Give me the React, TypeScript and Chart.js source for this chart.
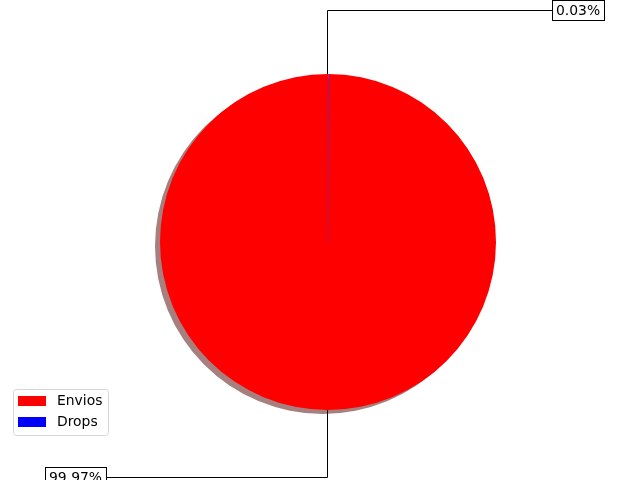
import React, { useEffect, useRef } from "react";
import { Chart, registerables } from "chart.js";

Chart.register(...registerables);

const labels = ["Envios", "Drops"];
const values = [99.97, 0.03];
const colors = ["#ff0000", "#0000ff"];

const FONT = '13.9px "DejaVu Sans", sans-serif';

export default function App() {
  const ref = useRef<HTMLCanvasElement>(null);

  useEffect(() => {
    if (!ref.current) return;
    const total = values.reduce((a, b) => a + b, 0);
    const dropsDeg = (values[1] / total) * 360;

    const plugin = {
      id: "mplExtras",
      beforeDatasetsDraw(chart: any) {
        const ctx = chart.ctx;
        const meta = chart.getDatasetMeta(0);
        ctx.save();
        meta.data.forEach((arc: any, i: number) => {
          ctx.beginPath();
          ctx.moveTo(arc.x - 5, arc.y + 4);
          ctx.arc(arc.x - 5, arc.y + 4, arc.outerRadius, arc.startAngle, arc.endAngle);
          ctx.closePath();
          ctx.fillStyle = i === 0 ? "rgba(77,0,0,0.5)" : "rgba(0,0,77,0.5)";
          ctx.fill();
        });
        ctx.restore();
      },
      afterDatasetsDraw(chart: any) {
        // thin wedge outline so the tiny slice stays visible
        const ctx = chart.ctx;
        const arc = chart.getDatasetMeta(0).data[1];
        ctx.save();
        ctx.strokeStyle = "rgba(90,40,200,0.8)";
        ctx.lineWidth = 0.6;
        ctx.beginPath();
        const mid = (arc.startAngle + arc.endAngle) / 2;
        ctx.moveTo(arc.x, arc.y);
        ctx.lineTo(arc.x + arc.outerRadius * Math.cos(mid), arc.y + arc.outerRadius * Math.sin(mid));
        ctx.stroke();
        ctx.restore();
      },
      afterDraw(chart: any) {
        const ctx = chart.ctx;
        const meta = chart.getDatasetMeta(0);
        ctx.save();
        ctx.font = FONT;
        ctx.textBaseline = "middle";
        meta.data.forEach((arc: any, i: number) => {
          const mid = (arc.startAngle + arc.endAngle) / 2;
          const r = arc.outerRadius;
          const ax = arc.x + r * Math.cos(mid);
          const ay = arc.y + r * Math.sin(mid);
          const dx = Math.cos(mid);
          const sign = dx >= 0 ? 1 : -1;
          const up = Math.sin(mid) < 0;
          const ly = up ? arc.y - 1.38 * r : arc.y + 1.4 * r;
          const lx = arc.x + sign * 1.35 * r;
          const txt = ((values[i] / total) * 100).toFixed(2) + "%";
          const tw = ctx.measureText(txt).width;
          const pad = 4;
          const bw = tw + 2 * pad;
          const bh = 20;
          const bx = sign > 0 ? lx - 2.8 : lx + 4.8 - bw;
          const by = ly - bh / 2;
          ctx.strokeStyle = "#000";
          ctx.lineWidth = 1;
          ctx.beginPath();
          const vx = Math.round(ax) - 0.5;
          const hy = Math.round(ly) + 0.5;
          ctx.moveTo(vx, ay);
          ctx.lineTo(vx, hy);
          ctx.lineTo(sign > 0 ? bx : bx + bw, hy);
          ctx.stroke();
          ctx.fillStyle = "#fff";
          ctx.fillRect(bx, by, bw, bh);
          ctx.strokeRect(Math.round(bx) + 0.5, Math.round(by) + 0.5, Math.round(bw), bh);
          ctx.fillStyle = "#000";
          ctx.textAlign = "left";
          ctx.fillText(txt, bx + pad, ly + 1);
        });

        const lx0 = 13.5, ly0 = 389.5, lw = 95, lh = 46;
        ctx.beginPath();
        const rr = 3;
        ctx.moveTo(lx0 + rr, ly0);
        ctx.lineTo(lx0 + lw - rr, ly0);
        ctx.quadraticCurveTo(lx0 + lw, ly0, lx0 + lw, ly0 + rr);
        ctx.lineTo(lx0 + lw, ly0 + lh - rr);
        ctx.quadraticCurveTo(lx0 + lw, ly0 + lh, lx0 + lw - rr, ly0 + lh);
        ctx.lineTo(lx0 + rr, ly0 + lh);
        ctx.quadraticCurveTo(lx0, ly0 + lh, lx0, ly0 + lh - rr);
        ctx.lineTo(lx0, ly0 + rr);
        ctx.quadraticCurveTo(lx0, ly0, lx0 + rr, ly0);
        ctx.closePath();
        ctx.fillStyle = "rgba(255,255,255,0.8)";
        ctx.fill();
        ctx.strokeStyle = "#d6d6d6";
        ctx.lineWidth = 1;
        ctx.stroke();
        labels.forEach((lab, i) => {
          const yy = 396 + i * 21;
          ctx.fillStyle = colors[i];
          ctx.fillRect(18, yy, 28, 10);
          ctx.fillStyle = "#000";
          ctx.textAlign = "left";
          ctx.fillText(lab, 57, yy + 5.5);
        });
        ctx.restore();
      },
    };

    const chart = new Chart(ref.current, {
      type: "pie",
      data: {
        labels,
        datasets: [
          {
            data: values,
            backgroundColor: colors,
            borderWidth: 0,
          },
        ],
      },
      options: {
        responsive: false,
        animation: false,
        devicePixelRatio: 1,
        rotation: dropsDeg,
        layout: { padding: { left: 160, right: 144, top: 74, bottom: 70 } },
        plugins: {
          legend: { display: false },
          tooltip: { enabled: false },
        },
      },
      plugins: [plugin],
    } as any);
    return () => chart.destroy();
  }, []);

  return (
    <div style={{ position: "absolute", left: 0, top: 0, width: 640, height: 480, background: "#fff" }}>
      <canvas ref={ref} width={640} height={480} style={{ display: "block" }} />
    </div>
  );
}
